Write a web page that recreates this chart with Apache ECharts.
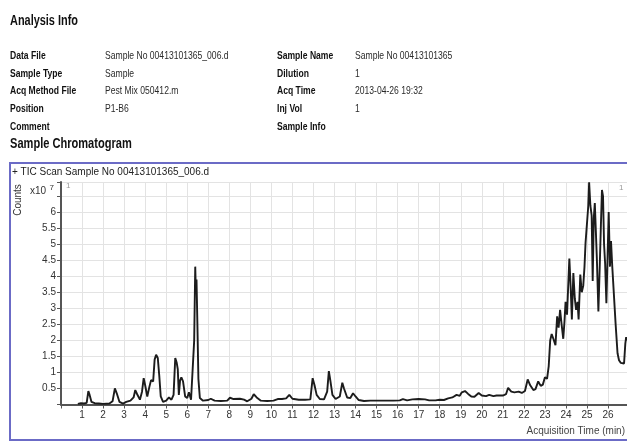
<!DOCTYPE html>
<html>
<head>
<meta charset="utf-8">
<script src="https://cdn.jsdelivr.net/npm/echarts@6/dist/echarts.min.js"></script>
<style>
  html, body { margin: 0; padding: 0; background: #fff; }
  #chart { position: absolute; left: 0; top: 0; width: 627px; height: 443px; }
  #info { position: absolute; left: 0; top: 0; width: 627px; height: 160px;
          font-family: 'Liberation Sans', Arial, sans-serif; color: #222; }
  .t { position: absolute; white-space: nowrap; line-height: 16px;
       transform: scaleX(0.78); transform-origin: 0 50%; }
  .lab { font-weight: bold; font-size: 11px; color: #111; }
  .val { font-size: 11px; color: #2a2a2a; }
  .head { font-weight: bold; color: #111; }
</style>
</head>
<body>
<div id="chart"></div>
<div id="info"></div>
<script>
// sample info block
var infoRows = [
  ['Data File', 'Sample No 00413101365_006.d', 'Sample Name', 'Sample No 00413101365'],
  ['Sample Type', 'Sample', 'Dilution', '1'],
  ['Acq Method File', 'Pest Mix 050412.m', 'Acq Time', '2013-04-26 19:32'],
  ['Position', 'P1-B6', 'Inj Vol', '1'],
  ['Comment', '', 'Sample Info', '']
];
var traceTitle = '+ TIC Scan Sample No 00413101365_006.d';

// TIC trace: acquisition time (min) / counts (x10^7)
var times = [
  0.80, 0.95, 1.10, 1.22, 1.30, 1.36, 1.45, 1.60, 1.80, 2.00,
  2.30, 2.45, 2.56, 2.65, 2.78, 2.95, 3.10, 3.30, 3.45, 3.53,
  3.62, 3.75, 3.85, 3.93, 4.00, 4.10, 4.20, 4.28, 4.38, 4.45,
  4.52, 4.60, 4.67, 4.74, 4.85, 5.00, 5.13, 5.25, 5.35, 5.43,
  5.50, 5.55, 5.60, 5.66, 5.72, 5.80, 5.90, 6.00, 6.08, 6.18,
  6.27, 6.33, 6.38, 6.41, 6.44, 6.48, 6.53, 6.60, 6.75, 7.00,
  7.12, 7.30, 7.60, 7.90, 8.03, 8.20, 8.50, 8.70, 8.85, 9.05,
  9.16, 9.30, 9.50, 9.80, 10.10, 10.30, 10.50, 10.70, 10.85, 11.00,
  11.30, 11.60, 11.85, 11.96, 12.05, 12.15, 12.30, 12.50, 12.65, 12.73,
  12.80, 12.90, 13.05, 13.25, 13.37, 13.45, 13.60, 13.75, 13.88, 14.00,
  14.15, 14.40, 14.70, 15.20, 15.80, 16.10, 16.25, 16.45, 16.70, 17.00,
  17.30, 17.50, 17.80, 18.00, 18.20, 18.40, 18.60, 18.80, 18.95, 19.05,
  19.20, 19.35, 19.50, 19.65, 19.85, 20.00, 20.20, 20.35, 20.55, 20.70,
  21.00, 21.15, 21.25, 21.40, 21.55, 21.75, 21.90, 22.05, 22.18, 22.30,
  22.45, 22.55, 22.68, 22.80, 22.90, 23.00, 23.10, 23.18, 23.25, 23.32,
  23.40, 23.50, 23.58, 23.65, 23.72, 23.80, 23.87, 23.93, 23.98, 24.05,
  24.10, 24.16, 24.22, 24.28, 24.35, 24.42, 24.48, 24.55, 24.60, 24.68,
  24.75, 24.82, 24.88, 24.93, 25.00, 25.06, 25.10, 25.16, 25.22, 25.27,
  25.32, 25.37, 25.42, 25.47, 25.54, 25.60, 25.66, 25.71, 25.76, 25.81,
  25.86, 25.92, 25.98, 26.03, 26.09, 26.14, 26.20, 26.28, 26.36, 26.45,
  26.52, 26.60, 26.68, 26.76, 26.82, 26.86, 26.90
];
var counts = [
  0.02, 0.04, 0.03, 0.05, 0.42, 0.30, 0.08, 0.04, 0.03, 0.02,
  0.03, 0.10, 0.50, 0.35, 0.08, 0.03, 0.08, 0.12, 0.22, 0.45,
  0.32, 0.15, 0.40, 0.82, 0.60, 0.25, 0.55, 0.76, 0.72, 1.40,
  1.55, 1.45, 0.90, 0.25, 0.08, 0.12, 0.22, 0.15, 0.30, 1.45,
  1.30, 1.10, 0.30, 0.75, 0.85, 0.72, 0.25, 0.20, 0.38, 0.15,
  0.20, 2.00, 4.30, 3.50, 3.90, 2.60, 0.80, 0.20, 0.12, 0.14,
  0.18, 0.12, 0.11, 0.12, 0.21, 0.17, 0.18, 0.15, 0.10, 0.18,
  0.32, 0.22, 0.12, 0.11, 0.12, 0.17, 0.17, 0.19, 0.30, 0.18,
  0.15, 0.15, 0.16, 0.82, 0.60, 0.30, 0.17, 0.16, 0.40, 1.04,
  0.75, 0.30, 0.17, 0.25, 0.68, 0.50, 0.22, 0.20, 0.35, 0.25,
  0.14, 0.11, 0.12, 0.12, 0.12, 0.13, 0.17, 0.13, 0.16, 0.17,
  0.16, 0.13, 0.13, 0.15, 0.14, 0.19, 0.22, 0.30, 0.27, 0.38,
  0.42, 0.33, 0.25, 0.24, 0.36, 0.28, 0.26, 0.30, 0.26, 0.28,
  0.28, 0.32, 0.52, 0.40, 0.38, 0.40, 0.36, 0.42, 0.78, 0.60,
  0.45, 0.48, 0.72, 0.58, 0.62, 0.85, 0.80, 1.20, 2.00, 2.20,
  2.05, 1.85, 2.75, 2.40, 2.95, 2.45, 2.05, 2.60, 3.20, 2.80,
  3.60, 4.55, 3.70, 2.65, 4.10, 3.30, 2.95, 3.20, 2.65, 4.05,
  3.50, 3.70, 4.30, 5.05, 5.00, 6.20, 6.93, 6.20, 5.90, 3.85,
  5.80, 6.28, 5.40, 4.50, 2.90, 4.20, 5.60, 6.69, 6.50, 5.00,
  4.40, 3.16, 4.70, 6.00, 4.30, 5.10, 4.30, 4.30, 2.50, 1.60,
  1.38, 1.30, 1.25, 1.28, 1.90, 2.10, 2.00
];

var infoEl = document.getElementById('info');
function addText(txt, cls, left, centerY, size) {
  var s = document.createElement('span');
  s.className = 't ' + cls;
  s.textContent = txt;
  s.style.left = left + 'px';
  s.style.top = (centerY - 8) + 'px';
  if (size) s.style.fontSize = size + 'px';
  infoEl.appendChild(s);
}
addText('Analysis Info', 'head', 10, 20, 14);
var rowY = [55, 72.7, 90.4, 108, 125.7];
infoRows.forEach(function (r, i) {
  addText(r[0], 'lab', 10, rowY[i]);
  addText(r[1], 'val', 105, rowY[i]);
  addText(r[2], 'lab', 277, rowY[i]);
  addText(r[3], 'val', 355, rowY[i]);
});
addText('Sample Chromatogram', 'head', 10, 142.5, 14.2);

var chart = echarts.init(document.getElementById('chart'));
var font = 'Liberation Sans, Arial, sans-serif';
chart.setOption({
  animation: false,
  grid: { left: 61, right: 0, top: 182, bottom: 38.5, outerBoundsMode: 'none' },
  xAxis: {
    type: 'value', min: 0, max: 26.9, interval: 1,
    axisLine: { lineStyle: { color: '#555', width: 2 } },
    axisTick: { length: 4, lineStyle: { color: '#555' } },
    axisLabel: {
      margin: 6, fontSize: 10, color: '#333', fontFamily: font,
      formatter: function (v) { return (v > 0 && Math.round(v) === v) ? String(v) : ''; }
    },
    splitLine: { show: true, lineStyle: { color: '#e3e3e3' } }
  },
  yAxis: {
    type: 'value', min: 0, max: 6.94, interval: 0.5,
    axisLine: { show: true, lineStyle: { color: '#555', width: 2 } },
    axisTick: { show: true, length: 4, lineStyle: { color: '#555' } },
    axisLabel: {
      margin: 5, fontSize: 10, color: '#333', fontFamily: font,
      formatter: function (v) { return (v > 0 && v <= 6.01) ? String(v) : ''; }
    },
    splitLine: { show: true, lineStyle: { color: '#e3e3e3' } }
  },
  series: [{
    type: 'line',
    data: times.map(function (t, i) { return [t, counts[i]]; }),
    symbol: 'none',
    silent: true,
    lineStyle: { color: '#1c1c1c', width: 1.9 }
  }],
  graphic: [
    { type: 'rect', z: 100, shape: { x: 10, y: 163, width: 640, height: 277 },
      style: { fill: 'none', stroke: '#6b6bc6', lineWidth: 2 } },
    { type: 'text', x: 12, y: 172, z: 100,
      style: { text: traceTitle, fontSize: 10, fontFamily: font, fill: '#222', verticalAlign: 'middle' } },
    { type: 'text', x: 18, y: 200, rotation: Math.PI / 2, z: 100,
      style: { text: 'Counts', fontSize: 10, fontFamily: font, fill: '#333', align: 'center', verticalAlign: 'middle' } },
    { type: 'text', x: 30, y: 191, z: 100,
      style: { text: '{b|x10} {s|7}', fontFamily: font, fill: '#333', verticalAlign: 'middle',
        rich: { b: { fontSize: 10, fontFamily: font, fill: '#333' },
                s: { fontSize: 8, fontFamily: font, fill: '#333', verticalAlign: 'top', padding: [0, 0, 6, 0] } } } },
    { type: 'text', x: 66, y: 186, z: 100,
      style: { text: '1', fontSize: 8, fontFamily: font, fill: '#999', verticalAlign: 'middle' } },
    { type: 'text', x: 619, y: 188, z: 100,
      style: { text: '1', fontSize: 8, fontFamily: font, fill: '#999', verticalAlign: 'middle' } },
    { type: 'text', x: 625, y: 431, z: 100,
      style: { text: 'Acquisition Time (min)', fontSize: 10, fontFamily: font, fill: '#444', align: 'right', verticalAlign: 'middle' } }
  ]
});
</script>
</body>
</html>
